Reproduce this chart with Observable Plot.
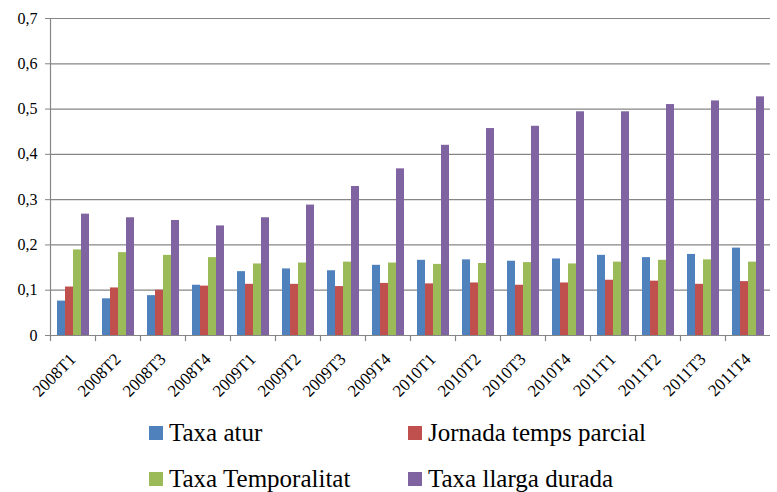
<!DOCTYPE html>
<html>
<head>
<meta charset="utf-8">
<style>
  html, body { margin: 0; background: #fff; font-family: "Liberation Serif", "Times New Roman", serif; }
  #chart svg { display: block; }
  #legend { position: relative; width: 777px; height: 92px; font-family: "Liberation Serif", "Times New Roman", serif; font-size: 25px; color: #000; }
  .item { position: absolute; display: flex; align-items: center; line-height: 25px; white-space: nowrap; }
  .sw { display: inline-block; width: 14px; height: 14px; margin-right: 6px; }
</style>
<script src="https://cdn.jsdelivr.net/npm/d3@7"></script>
<script src="https://cdn.jsdelivr.net/npm/@observablehq/plot@0.6"></script>
</head>
<body>
<div id="chart"></div>
<div id="legend">
  <div class="item" style="left:149px;top:20px"><span class="sw" style="background:#4F81BD"></span><span>Taxa atur</span></div>
  <div class="item" style="left:408px;top:20px"><span class="sw" style="background:#C0504D"></span><span>Jornada temps parcial</span></div>
  <div class="item" style="left:149px;top:66px"><span class="sw" style="background:#9BBB59"></span><span>Taxa Temporalitat</span></div>
  <div class="item" style="left:408px;top:66px"><span class="sw" style="background:#8064A2"></span><span>Taxa llarga durada</span></div>
</div>
<script>
const periods = ["2008T1","2008T2","2008T3","2008T4","2009T1","2009T2","2009T3","2009T4",
                 "2010T1","2010T2","2010T3","2010T4","2011T1","2011T2","2011T3","2011T4"];
const series = ["Taxa atur","Jornada temps parcial","Taxa Temporalitat","Taxa llarga durada"];
const colors = ["#4F81BD","#C0504D","#9BBB59","#8064A2"];
const taxaAtur      = [0.076,0.081,0.088,0.111,0.141,0.147,0.143,0.155,0.166,0.167,0.164,0.169,0.177,0.172,0.179,0.193];
const jornadaParcial= [0.107,0.105,0.100,0.109,0.113,0.113,0.108,0.115,0.114,0.116,0.111,0.116,0.122,0.120,0.113,0.119];
const temporalitat  = [0.189,0.183,0.177,0.172,0.158,0.160,0.162,0.160,0.157,0.159,0.161,0.158,0.162,0.166,0.167,0.162];
const llargaDurada  = [0.268,0.260,0.254,0.242,0.260,0.288,0.329,0.368,0.420,0.457,0.462,0.494,0.494,0.510,0.518,0.527];
const yTicks = [0,0.1,0.2,0.3,0.4,0.5,0.6,0.7];

const seriesValues = [taxaAtur, jornadaParcial, temporalitat, llargaDurada];
const data = periods.flatMap((p, i) => series.map((s, j) => ({period: p, serie: s, value: seriesValues[j][i]})));

const grey = "#868686";
const plot = Plot.plot({
  width: 777, height: 400,
  marginLeft: 43, marginRight: 0, marginTop: 18, marginBottom: 65,
  style: {fontFamily: "Liberation Serif", fontSize: "16px", color: "#000", background: "#fff"},
  fx: {domain: periods, padding: 0, label: null},
  x: {domain: series, paddingInner: 0, paddingOuter: 0.78, axis: null},
  y: {domain: [0, 0.7], label: null},
  color: {domain: series, range: colors},
  marks: [
    Plot.gridY(yTicks, {stroke: grey, strokeOpacity: 1, strokeWidth: 1.2}),
    Plot.frame({anchor: "left", facetAnchor: "left", stroke: grey, strokeWidth: 1.2}),
    Plot.frame({anchor: "left", stroke: grey, strokeWidth: 1.2, insetTop: 317, insetBottom: -5}),
    Plot.barY(data, {fx: "period", x: "serie", y: "value", fill: "serie"}),
    Plot.axisY(yTicks, {anchor: "left", tickSize: 5, tickPadding: 8, stroke: grey, fill: "#000",
      tickFormat: d => d === 0 ? "0" : d.toFixed(1).replace(".", ","), label: null, fontSize: 16}),
    Plot.axisFx({anchor: "bottom", tickSize: 0, tickRotate: -45, tickPadding: 21, dx: 0, fontSize: 17, label: null, fill: "#000"})
  ]
});
document.getElementById("chart").appendChild(plot);
</script>
</body>
</html>
